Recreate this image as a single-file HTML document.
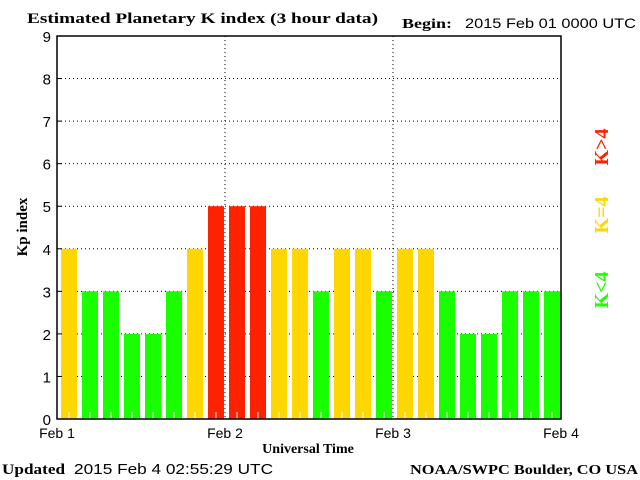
<!DOCTYPE html>
<html><head><meta charset="utf-8"><style>
html,body{margin:0;padding:0;background:#fff;}
svg{display:block;}
.serif{font-family:"Liberation Serif",serif;font-weight:bold;}
.sans{font-family:"Liberation Sans",sans-serif;}
</style></head><body>
<svg id="chart" width="640" height="480" xmlns="http://www.w3.org/2000/svg">
<text x="27" y="23" class="serif" font-size="15" textLength="351" lengthAdjust="spacingAndGlyphs">Estimated Planetary K index (3 hour data)</text>
<text x="402" y="28" class="serif" font-size="14" textLength="50" lengthAdjust="spacingAndGlyphs">Begin:</text>
<text x="465" y="28" class="sans" font-size="14" textLength="171" lengthAdjust="spacingAndGlyphs">2015 Feb 01 0000 UTC</text>
<text x="2" y="474" class="serif" font-size="15" textLength="63" lengthAdjust="spacingAndGlyphs">Updated</text>
<text x="74" y="474" class="sans" font-size="15" textLength="199" lengthAdjust="spacingAndGlyphs">2015 Feb  4 02:55:29 UTC</text>
<text x="410" y="474" class="serif" font-size="14" textLength="228" lengthAdjust="spacingAndGlyphs">NOAA/SWPC Boulder, CO USA</text>
<text x="308" y="453" text-anchor="middle" class="serif" font-size="14">Universal Time</text>
<text transform="translate(27,227) rotate(-90)" text-anchor="middle" class="serif" font-size="15">Kp index</text>
<g class="serif" font-size="20">
<text transform="translate(608,290) rotate(-90)" text-anchor="middle" fill="#22ff00">K&lt;4</text>
<text transform="translate(608,215) rotate(-90)" text-anchor="middle" fill="#ffd700">K=4</text>
<text transform="translate(608,147) rotate(-90)" text-anchor="middle" fill="#ff2200">K&gt;4</text>
</g>
<g id="grid"></g>
<g id="bars"></g>
<g id="axes"></g>
</svg>
<script>
const kpValues = [4,3,3,2,2,3,4,5,5,5,4,4,3,4,4,3,4,4,3,2,2,3,3,3];
const yTicks = [0,1,2,3,4,5,6,7,8,9];
const dayLabels = ["Feb 1","Feb 2","Feb 3","Feb 4"];
const L=57,R=561,T=36,B=419,yMax=9;
const NS="http://www.w3.org/2000/svg";
function yS(v){return B-(v/yMax)*(B-T);}
function xS(i){return L+i*(R-L)/kpValues.length;}
function dayX(d){return L+d*(R-L)/(dayLabels.length-1);}
function mk(tag,attrs,parent){const e=document.createElementNS(NS,tag);for(const k in attrs)e.setAttribute(k,attrs[k]);parent.appendChild(e);return e;}
const grid=document.getElementById('grid'),bars=document.getElementById('bars'),axes=document.getElementById('axes');
yTicks.forEach(v=>{
  if(v>0&&v<yMax){const g=mk('line',{x1:L,x2:R,y1:yS(v),y2:yS(v),stroke:'#000','stroke-dasharray':'1,3'},grid);
  
  }
  const t=mk('text',{x:L-6,y:yS(v)+6,'text-anchor':'end','font-size':'15','class':'sans'},axes);t.textContent=v;
  
  
  const tk=mk('line',{x1:L,x2:L+5,y1:yS(v),y2:yS(v),stroke:'#000'},axes);
  
  
});
dayLabels.forEach((d,i)=>{
  if(i>0&&i<dayLabels.length-1){const g=mk('line',{x1:dayX(i),x2:dayX(i),y1:T,y2:B,stroke:'#000','stroke-dasharray':'1,3'},grid);
  
  }
  const t=mk('text',{x:dayX(i),y:B+19,'text-anchor':'middle','font-size':'14','class':'sans'},axes);t.textContent=d;
  
  
});
const w=(R-L)/kpValues.length;
kpValues.forEach((v,i)=>{
  const c=v<4?'#1aff00':(v==4?'#ffd700':'#ff2200');
  const x=xS(i)+4;
  const b=mk('rect',{x:x,y:yS(v),width:w-5,height:B-yS(v),fill:c},bars);
  
  
  const m=mk('line',{x1:x+(w-5)/2,x2:x+(w-5)/2,y1:B-7,y2:B,stroke:'#fff'},bars);
  
  
});
const f=mk('rect',{x:L,y:T,width:R-L,height:B-T,fill:'none',stroke:'#000','stroke-width':'1.5'},axes);


</script>
</body></html>
